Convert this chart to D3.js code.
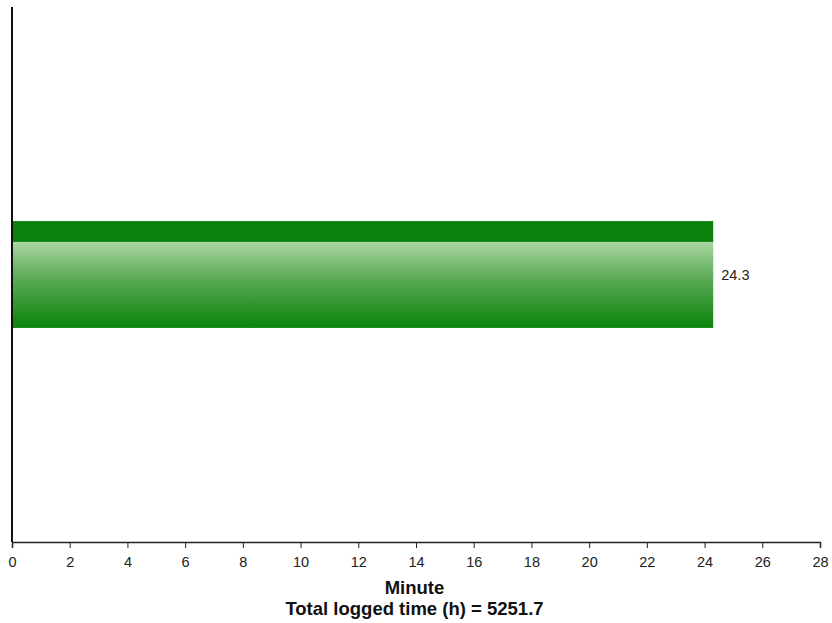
<!DOCTYPE html>
<html><head><meta charset="utf-8">
<script src="https://cdn.jsdelivr.net/npm/d3@7"></script>
<style>body{margin:0;background:#fff;font-family:"Liberation Sans",Arial,sans-serif;}</style>
</head><body><svg id="c" width="832" height="623"></svg>
<script>
const categories = ["Minute"];
const values = [24.3];
const xTicks = [0,2,4,6,8,10,12,14,16,18,20,22,24,26,28];
const xTitle = "Minute";
const subtitle = "Total logged time (h) = 5251.7";

const svg = d3.select("#c");
const mLeft = 12, mRight = 820, mTop = 7, mBottom = 542;
const x = d3.scaleLinear().domain([0, 28]).range([mLeft, mRight]);
const y = d3.scaleBand().domain(categories).range([mTop, mBottom]).padding(0.667);

const defs = svg.append("defs");
const g = defs.append("linearGradient").attr("id","bg").attr("x1",0).attr("y1",0).attr("x2",0).attr("y2",1);
[[0,"#0b820b"],[0.19,"#0b820b"],[0.2,"#aad6a2"],[0.5,"#62ae5d"],[1,"#0a830a"]].forEach(([o,c])=>g.append("stop").attr("offset",o).attr("stop-color",c));

svg.selectAll("rect.bar").data(values).join("rect").attr("class","bar")
  .attr("x", x(0)).attr("y",(d,i)=>y(categories[i]))
  .attr("width", d=>x(d)-x(0)).attr("height", y.bandwidth())
  .attr("fill","url(#bg)");

svg.selectAll("text.val").data(values).join("text").attr("class","val")
  .attr("x", d=>x(d)+8).attr("y",(d,i)=>y(categories[i])+y.bandwidth()/2)
  .attr("dy","0.35em").attr("font-size",14.5).attr("fill","#222").text(d=>d);

const xa = svg.append("g").attr("transform",`translate(0,${mBottom})`)
  .call(d3.axisBottom(x).tickValues(xTicks).tickSize(6).tickSizeOuter(6).tickFormat(d3.format("d")));
xa.select(".domain").attr("stroke","#222").attr("stroke-width",1.5);
xa.selectAll(".tick line").attr("stroke","#222");
xa.selectAll(".tick text").attr("font-size",14.5).attr("font-family","Liberation Sans, Arial, sans-serif").attr("fill","#222").attr("dy","1.1em");

svg.append("line").attr("x1",mLeft).attr("x2",mLeft).attr("y1",mTop).attr("y2",mBottom)
  .attr("stroke","#111").attr("stroke-width",2);

svg.append("text").attr("x",414.5).attr("y",594).attr("text-anchor","middle")
  .attr("font-weight","bold").attr("font-size",18.5).attr("fill","#111").text(xTitle);
svg.append("text").attr("x",414.5).attr("y",615).attr("text-anchor","middle")
  .attr("font-weight","bold").attr("font-size",18.5).attr("fill","#111").text(subtitle);
</script></body></html>
